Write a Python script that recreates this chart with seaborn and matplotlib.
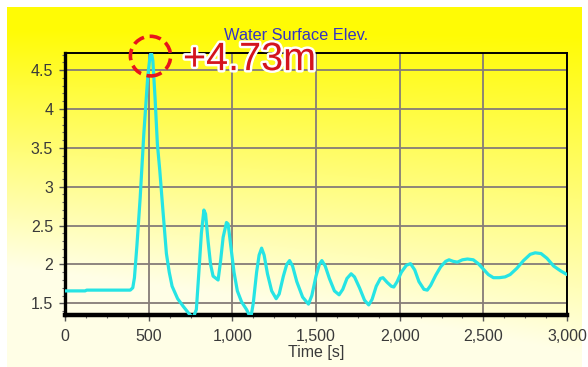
import numpy as np
import pandas as pd
import seaborn as sns
import matplotlib.pyplot as plt
import matplotlib.patheffects as pe
from matplotlib.patches import Ellipse
from matplotlib.ticker import FuncFormatter, MultipleLocator

# Water surface elevation record at the gauge
time_s = [0, 120, 130, 390, 405, 415, 430, 449, 471, 494, 508, 516, 525, 538, 552,
          566, 585, 606, 623, 640, 673, 707, 740, 765, 785, 800, 815, 830, 840, 855,
          870, 885, 915, 930, 945, 965, 975, 990, 1010, 1030, 1055, 1085, 1110, 1125,
          1145, 1160, 1175, 1190, 1210, 1235, 1262, 1280, 1305, 1325, 1342, 1360,
          1385, 1420, 1455, 1475, 1500, 1520, 1535, 1555, 1580, 1610, 1638, 1660,
          1685, 1710, 1730, 1760, 1790, 1815, 1835, 1860, 1885, 1900, 1925, 1950,
          1965, 1985, 2010, 2040, 2065, 2090, 2115, 2145, 2165, 2185, 2215, 2245,
          2275, 2295, 2320, 2345, 2375, 2405, 2440, 2470, 2500, 2530, 2560, 2595,
          2630, 2660, 2700, 2740, 2780, 2810, 2845, 2880, 2920, 2960, 3000]
elev_m = [1.66, 1.66, 1.67, 1.67, 1.70, 1.83, 2.25, 2.85, 3.68, 4.40, 4.68, 4.73, 4.62,
          4.15, 3.55, 3.22, 2.70, 2.14, 1.90, 1.72, 1.56, 1.46, 1.37, 1.31, 1.42, 1.90,
          2.40, 2.70, 2.65, 2.30, 2.00, 1.85, 1.80, 2.05, 2.35, 2.54, 2.52, 2.25, 1.90,
          1.66, 1.52, 1.42, 1.31, 1.50, 1.90, 2.12, 2.21, 2.12, 1.88, 1.66, 1.56, 1.62,
          1.85, 2.00, 2.05, 1.98, 1.78, 1.58, 1.49, 1.60, 1.85, 2.00, 2.05, 1.98, 1.82,
          1.66, 1.61, 1.68, 1.82, 1.88, 1.84, 1.70, 1.54, 1.48, 1.55, 1.72, 1.82, 1.83,
          1.77, 1.72, 1.71, 1.78, 1.90, 1.99, 2.01, 1.93, 1.78, 1.68, 1.67, 1.73, 1.86,
          1.97, 2.04, 2.06, 2.04, 2.03, 2.06, 2.07, 2.06, 2.01, 1.94, 1.87, 1.83, 1.83,
          1.84, 1.87, 1.95, 2.05, 2.13, 2.15, 2.14, 2.08, 1.98, 1.92, 1.87]

peak_idx = int(np.argmax(elev_m))
peak_t = time_s[peak_idx]
peak_val = elev_m[peak_idx]

x_major = [0, 500, 1000, 1500, 2000, 2500, 3000]
y_major = [1.5, 2.0, 2.5, 3.0, 3.5, 4.0, 4.5]

df = pd.DataFrame({"Time [s]": time_s, "Elevation": elev_m})

sns.set_style("white")
plt.rcParams["font.family"] = ["Liberation Sans", "DejaVu Sans"]

W, H = 588, 367
fig = plt.figure(figsize=(W / 100, H / 100), dpi=100)
fig.patch.set_facecolor("white")

# yellow panel with a diagonal fade toward the lower left
bg = fig.add_axes([0, 0, 1, 1], zorder=0)
bg.set_xlim(0, W)
bg.set_ylim(H, 0)
bg.axis("off")
gx = np.linspace(0, 1, 200)[None, :]
gy = np.linspace(0, 1, 200)[:, None]
w = np.clip((gy - 0.08) * 1.05 + (1 - gx) * 0.35 * gy, 0, 0.93)
yellow = np.array([1.0, 0.985, 0.02])
white = np.array([1.0, 1.0, 0.97])
img = yellow[None, None, :] * (1 - w[..., None]) + white[None, None, :] * w[..., None]
bg.imshow(img, extent=[7, 582, H, 7], aspect="auto", interpolation="bilinear")

ax = fig.add_axes([65 / W, 1 - 315 / H, (567 - 65) / W, (315 - 53) / H], zorder=1)
ax.set_facecolor("none")

sns.lineplot(data=df, x="Time [s]", y="Elevation", ax=ax, color="#26e4e4",
             linewidth=2.3, zorder=3)

ax.set_xlim(0, 3000)
ax.set_ylim(1.35, 4.72)
ax.set_xticks(x_major)
ax.set_yticks(y_major)
ax.xaxis.set_minor_locator(MultipleLocator(125))
ax.yaxis.set_minor_locator(MultipleLocator(0.1))
ax.xaxis.set_major_formatter(FuncFormatter(lambda v, p: f"{v:,.0f}"))
ax.yaxis.set_major_formatter(FuncFormatter(lambda v, p: f"{v:g}"))
ax.grid(True, which="major", color="#857c78", linewidth=1.3, zorder=1)
ax.set_axisbelow(True)

ax.tick_params(which="major", direction="out", length=4.5, width=1.0,
               color="#555555", labelsize=11.5, labelcolor="#3a3a3a")
ax.tick_params(axis="x", which="major", pad=5.5)
ax.tick_params(axis="y", which="major", pad=4)
ax.tick_params(which="minor", direction="out", length=2.5, width=0.8, color="#666666")
ax.tick_params(left=True, bottom=True, which="both")

for side, lw in (("left", 2.4), ("bottom", 3.2), ("top", 1.4), ("right", 1.4)):
    ax.spines[side].set_visible(True)
    ax.spines[side].set_color("black")
    ax.spines[side].set_linewidth(lw)

ax.set_xlabel("Time [s]", fontsize=11.5, color="#3a3a3a", labelpad=1)
ax.set_ylabel("")

fig.text(296 / W, 1 - 35 / H, "Water Surface Elev.", ha="center", va="center",
         fontsize=11.8, color="#3434c4", zorder=2)

# highlight the peak
circ = Ellipse((peak_t - 5, peak_val - 0.05), width=240, height=0.51, fill=False,
               edgecolor="#e8141c", linewidth=2.6, linestyle=(0, (3.2, 1.6)),
               clip_on=False, zorder=6)
ax.add_patch(circ)
ax.text(705, 4.5, f"+{peak_val:.2f}m", fontsize=28.5, color="#d4141e",
        ha="left", va="baseline", clip_on=False, zorder=7,
        path_effects=[pe.withStroke(linewidth=3.5, foreground="white")])

fig.savefig("out.png", dpi=100)
